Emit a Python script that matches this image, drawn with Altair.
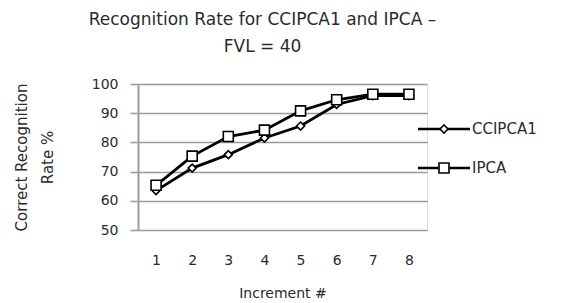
import altair as alt
import pandas as pd

increments = [1, 2, 3, 4, 5, 6, 7, 8]
ccipca1 = [63.5, 71.2, 75.8, 81.5, 85.6, 93.0, 96.0, 96.0]
ipca = [65.3, 75.3, 82.0, 84.2, 90.8, 94.6, 96.5, 96.5]
series_names = ["CCIPCA1", "IPCA"]
y_ticks = [50, 60, 70, 80, 90, 100]

rows = []
for i, v in zip(increments, ccipca1):
    rows.append({"inc": i, "rate": v, "series": "CCIPCA1"})
for i, v in zip(increments, ipca):
    rows.append({"inc": i, "rate": v, "series": "IPCA"})
df = pd.DataFrame(rows)
legend_df = pd.DataFrame({"series": series_names})

FONT = "DejaVu Sans"
TXT = "#2b2b2b"

x_enc = alt.X(
    "inc:O",
    scale=alt.Scale(type="point", padding=0.5),
    axis=alt.Axis(
        title="Increment #",
        labelAngle=0,
        ticks=False,
        domain=False,
        grid=False,
        labelPadding=23,
        labelFontSize=14,
        labelFont=FONT,
        labelColor=TXT,
        titleFont=FONT,
        titleFontSize=14,
        titleFontWeight="normal",
        titleColor=TXT,
        titlePadding=19,
    ),
)
y_enc = alt.Y(
    "rate:Q",
    scale=alt.Scale(domain=[50, 100], nice=False, zero=False),
    axis=alt.Axis(
        title=["Correct Recognition", "Rate %"],
        values=y_ticks,
        grid=True,
        gridColor="#9a9a9a",
        gridWidth=1.6,
        domainColor="#9a9a9a",
        domainWidth=2,
        tickColor="#9a9a9a",
        tickWidth=1.6,
        tickSize=8,
        labelPadding=12,
        labelFontSize=14,
        labelFont=FONT,
        labelColor=TXT,
        titleFont=FONT,
        titleFontSize=15,
        titleFontWeight="normal",
        titleColor=TXT,
        titleAngle=270,
        titleAlign="center",
        titleBaseline="middle",
        titleLineHeight=26,
        titleX=-117,
        titleY=73,
    ),
)

shape_scale = alt.Scale(domain=series_names, range=["diamond", "square"])
size_scale = alt.Scale(domain=series_names, range=[64, 100])

base = alt.Chart(df)

lines = base.mark_line(color="black", strokeWidth=2.8).encode(
    x=x_enc, y=y_enc, detail="series:N"
)

points = base.mark_point(
    fill="white", stroke="black", strokeWidth=1.6, opacity=1, filled=False
).encode(
    x=x_enc,
    y=y_enc,
    shape=alt.Shape("series:N", scale=shape_scale, legend=None),
    size=alt.Size("series:N", scale=size_scale, legend=None),
)

data_layer = alt.layer(lines, points)

# legend drawn as its own small layer, entries placed by a point scale
leg_y = alt.Y(
    "series:N",
    scale=alt.Scale(type="point", domain=series_names, range=[45, 84], padding=0),
    axis=None,
)
leg_base = alt.Chart(legend_df)
leg_rule = leg_base.mark_rule(color="black", strokeWidth=2.6).encode(
    x=alt.value(280), x2=alt.value(332), y=leg_y
)
leg_pts = leg_base.mark_point(
    fill="white", stroke="black", strokeWidth=1.6, opacity=1, filled=False
).encode(
    x=alt.value(306),
    y=leg_y,
    shape=alt.Shape("series:N", scale=shape_scale, legend=None),
    size=alt.Size("series:N", scale=size_scale, legend=None),
)
leg_txt = leg_base.mark_text(
    align="left", baseline="middle", font=FONT, fontSize=15, color=TXT
).encode(x=alt.value(334), y=leg_y, text="series:N")

legend = alt.layer(leg_rule, leg_pts, leg_txt)

chart = (
    alt.layer(data_layer, legend)
    .resolve_scale(y="independent")
    .properties(
        width=289,
        height=146,
        autosize=alt.AutoSizeParams(type="none"),
        padding={"left": 130, "top": 76, "right": 131, "bottom": 71},
        title=alt.TitleParams(
            text=["Recognition Rate for CCIPCA1 and IPCA \u2013", "FVL = 40"],
            font=FONT,
            fontSize=17,
            fontWeight="normal",
            color=TXT,
            lineHeight=27,
            anchor="middle",
            dx=-20,
            offset=21,
        ),
    )
    .configure_view(stroke=None)
    .configure(background="white")
)

chart.save("out.html", embed_options={"renderer": "svg", "actions": False})
